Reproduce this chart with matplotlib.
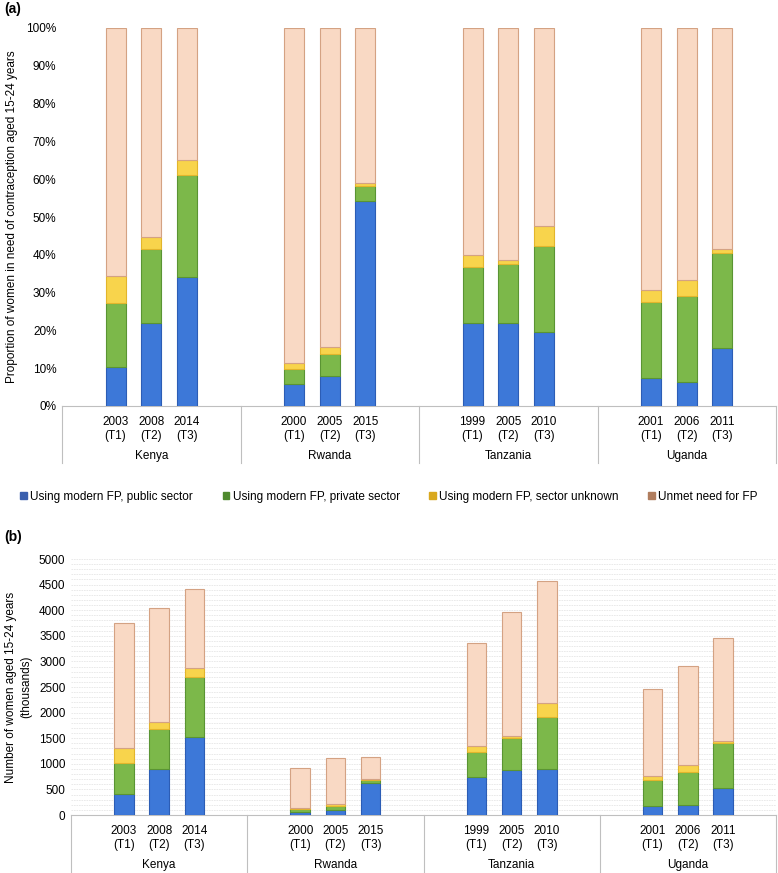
import numpy as np
import matplotlib
matplotlib.use("Agg")
import matplotlib.pyplot as plt
from matplotlib.patches import Patch
from matplotlib.ticker import MultipleLocator, FuncFormatter

plt.rcParams['font.family'] = ['Liberation Sans', 'DejaVu Sans']

countries = ['Kenya', 'Rwanda', 'Tanzania', 'Uganda']
years = [['2003', '2008', '2014'], ['2000', '2005', '2015'],
         ['1999', '2005', '2010'], ['2001', '2006', '2011']]
rounds = ['(T1)', '(T2)', '(T3)']
series = ['Using modern FP, public sector', 'Using modern FP, private sector',
          'Using modern FP, sector unknown', 'Unmet need for FP']

# (a) percentages, per country x survey
pct_public = [10.4, 21.9, 34.1, 5.8, 7.9, 54.3, 21.9, 21.9, 19.7, 7.5, 6.4, 15.3]
pct_private = [16.8, 19.6, 27.1, 3.9, 5.8, 4.0, 14.8, 15.7, 22.5, 20.1, 22.7, 25.1]
pct_unknown = [7.2, 3.2, 3.8, 1.6, 1.8, 0.7, 3.2, 1.1, 5.5, 3.1, 4.3, 1.1]
pct_unmet = [100 - a - b - c for a, b, c in zip(pct_public, pct_private, pct_unknown)]

# (b) thousands of women
num_public = [404, 892, 1517, 65, 98, 618, 736, 879, 905, 182, 189, 534]
num_private = [618, 781, 1172, 46, 78, 65, 494, 618, 1015, 502, 657, 866]
num_unknown = [280, 137, 175, 26, 32, 27, 118, 46, 261, 84, 124, 52]
num_unmet = [2454, 2226, 1543, 774, 899, 429, 2005, 2428, 2389, 1686, 1940, 1998]

faces = ['#3d78d8', '#7cb84a', '#f8d44c', '#f9d9c4']
edges = ['#2c5db5', '#5a9433', '#e2b52c', '#d4a283']
legend_cols = ['#3a5fae', '#4f8a2e', '#d9a81e', '#b07d5e']

# 5 slots per country, bars in the middle three
xpos = np.array([g * 5 + k + 1.5 for g in range(4) for k in range(3)])
bar_w = 0.56


def draw_panel(ax, data, h):
    bottom = np.zeros(len(xpos))
    for vals, fc, ec in zip(data, faces, edges):
        ax.bar(xpos, vals, bar_w, bottom=bottom, color=fc, edgecolor=ec,
               linewidth=0.8, zorder=3)
        bottom += np.array(vals)
    ax.set_xlim(0, 20)
    for s in ['top', 'right', 'left']:
        ax.spines[s].set_visible(False)
    ax.spines['bottom'].set_color('#bfbfbf')
    ax.set_xticks(xpos)
    ax.set_xticklabels([y + '\n' + r for yrs in years for y, r in zip(yrs, rounds)],
                       fontsize=8.5, linespacing=1.3)
    ax.tick_params(axis='x', length=0, pad=7)
    ax.tick_params(axis='y', length=0, labelsize=8.5, pad=4)
    tr = ax.get_xaxis_transform()
    for g in range(5):
        ax.plot([g * 5, g * 5], [0, -57 / h], color='#bfbfbf', lw=0.8,
                transform=tr, clip_on=False)
    for g, c in enumerate(countries):
        ax.text(g * 5 + 2.5, -50 / h, c, transform=tr, ha='center', va='center',
                fontsize=8.5)


fig = plt.figure(figsize=(7.78, 8.73), dpi=100)

# ---- panel (a)
ax1 = fig.add_axes([62 / 778, 1 - 406 / 873, 714 / 778, 378 / 873])
draw_panel(ax1, [pct_public, pct_private, pct_unknown, pct_unmet], 378)
ax1.set_ylim(0, 100)
ax1.yaxis.set_major_locator(MultipleLocator(10))
ax1.yaxis.set_major_formatter(FuncFormatter(lambda v, p: '%d%%' % v))
ax1.set_ylabel('Proportion of women in need of contraception aged 15-24 years',
               fontsize=8.5, labelpad=6)

# ---- panel (b)
ax2 = fig.add_axes([71 / 778, 1 - 815 / 873, 705 / 778, 256 / 873])
draw_panel(ax2, [num_public, num_private, num_unknown, num_unmet], 256)
ax2.set_ylim(0, 5000)
ax2.yaxis.set_major_locator(MultipleLocator(500))
ax2.yaxis.set_minor_locator(MultipleLocator(100))
ax2.grid(axis='y', which='both', color='#e6e6e6', lw=0.6, ls=(0, (2, 1)), zorder=0)
ax2.tick_params(axis='y', which='minor', length=0)
ax2.set_ylabel('Number of women aged 15-24 years\n(thousands)', fontsize=8.5,
               labelpad=5, linespacing=1.35)

# legend
handles = [Patch(color=c, label=s) for c, s in zip(legend_cols, series)]
fig.legend(handles=handles, loc='center', bbox_to_anchor=(0.5, 1 - 497 / 873),
           ncol=4, frameon=False, fontsize=8.5, handlelength=0.55, handleheight=0.55,
           handletextpad=0.3, columnspacing=2.5)

fig.text(4 / 778, 1 - 9 / 873, '(a)', fontsize=10, fontweight='bold', va='center')
fig.text(4 / 778, 1 - 537 / 873, '(b)', fontsize=10, fontweight='bold', va='center')

fig.savefig('out.png', dpi=100)
